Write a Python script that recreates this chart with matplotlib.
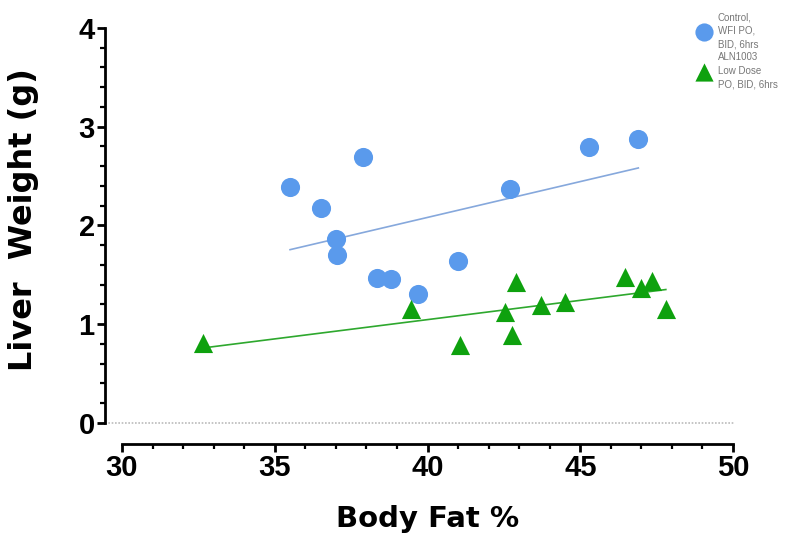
import matplotlib.pyplot as plt
import numpy as np

plt.rcParams['font.family'] = ['Liberation Sans', 'DejaVu Sans']

# control group (blue circles)
ctrl_fat = [35.5, 36.5, 37.9, 37.0, 37.05, 38.35, 38.8, 39.7, 41.0, 42.7, 45.3, 46.9]
ctrl_liver = [2.39, 2.18, 2.69, 1.86, 1.70, 1.47, 1.46, 1.31, 1.64, 2.37, 2.79, 2.88]

# ALN1003 low dose (green triangles)
aln_fat = [32.65, 39.45, 41.05, 42.9, 42.55, 42.75, 43.7, 44.5, 46.45, 47.0, 47.35, 47.8]
aln_liver = [0.81, 1.15, 0.79, 1.43, 1.12, 0.89, 1.19, 1.23, 1.48, 1.37, 1.44, 1.15]

ctrl_label = "Control,\nWFI PO,\nBID, 6hrs"
aln_label = "ALN1003\nLow Dose\nPO, BID, 6hrs"

blue = '#5A9AEC'
green = '#0EA10E'

fig = plt.figure(figsize=(7.98, 5.38), dpi=100)
ax = fig.add_axes([0.1529, 0.2138, 0.7657, 0.7342])

ax.scatter(ctrl_fat, ctrl_liver, s=190, color=blue, marker='o', zorder=3,
           label=ctrl_label, linewidths=0)
ax.scatter(aln_fat, aln_liver, s=190, color=green, marker='^', zorder=3,
           label=aln_label, linewidths=0)

# linear fits over each group's range
for xs, ys, c in [(ctrl_fat, ctrl_liver, '#86A8DC'), (aln_fat, aln_liver, '#2EA82E')]:
    k, b = np.polyfit(xs, ys, 1)
    xx = np.array([min(xs), max(xs)])
    ax.plot(xx, k * xx + b, color=c, lw=1.2, zorder=2)

ax.axhline(0, xmin=-17 / 611, xmax=1.003, color='#BBBBBB', lw=1.2, ls=(0, (1, 1)),
           clip_on=False, zorder=1)

ax.set_xlim(30, 50)
ax.set_ylim(0, 4)
ax.set_xticks([30, 35, 40, 45, 50])
ax.set_xticks(np.arange(30, 51, 1), minor=True)
ax.set_yticks([0, 1, 2, 3, 4])
ax.set_yticks(np.arange(0, 4.01, 0.2), minor=True)

for s in ['top', 'right']:
    ax.spines[s].set_visible(False)
# offsets in points (px * 0.72)
ax.spines['left'].set_position(('outward', 12.2))
ax.spines['bottom'].set_position(('outward', 15.1))
for s in ['left', 'bottom']:
    ax.spines[s].set_linewidth(2.0)

ax.tick_params(which='major', length=5.5, width=2.0, labelsize=21, pad=2)
ax.tick_params(which='minor', length=3.5, width=1.6)
for lab in ax.get_xticklabels() + ax.get_yticklabels():
    lab.set_fontweight('bold')

ax.set_xlabel('Body Fat %', fontsize=21, fontweight='bold',
              family=['DejaVu Sans'], va='center')
ax.xaxis.set_label_coords(0.5, -0.243)
ax.set_ylabel('Liver  Weight (g)', fontsize=23, fontweight='bold',
              family=['DejaVu Sans'], va='center')
ax.yaxis.set_label_coords(-0.162, 0.516)

leg = ax.legend(loc='upper left', bbox_to_anchor=(0.93, 1.05), frameon=False,
                fontsize=7, labelcolor='#777777', handletextpad=0.45,
                borderaxespad=0, labelspacing=0.3, markerscale=0.95)
for t in leg.get_texts():
    t.set_linespacing(1.45)

fig.savefig('out.png', dpi=100)
